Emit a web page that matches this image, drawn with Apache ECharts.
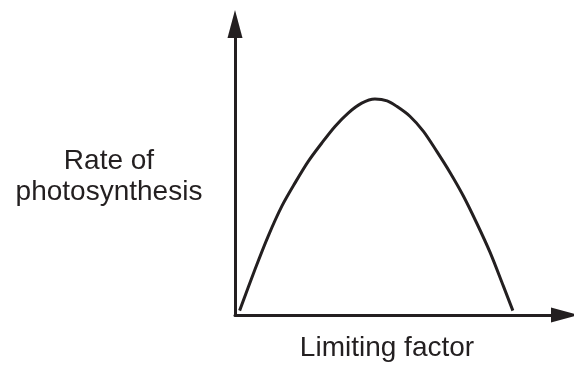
<!DOCTYPE html>
<html>
<head>
	<meta charset="utf-8">
	<title>Rate of photosynthesis</title>
	<script src="https://cdn.jsdelivr.net/npm/echarts@6/dist/echarts.min.js"></script>
</head>
<body style="margin:0">
	<div id="main" style="width:574px;height:367px;"></div>
	<script type="text/javascript">
		// curve (x: limiting factor, y: rate), both 0-100
		var factorX = [1.4, 6.1, 10.1, 14.2, 18.2, 22.2, 26.3, 30.3, 34.3, 38.4, 42.4, 46.1, 49.0, 53.0, 57.1, 61.1, 65.2, 69.2, 73.2, 77.3, 81.3, 84.2];
		var rateY = [1.5, 15.8, 27.2, 37.4, 45.4, 52.8, 59.1, 64.8, 69.4, 72.8, 74.2, 73.6, 71.7, 68.3, 63.1, 56.3, 48.9, 40.9, 31.7, 21.5, 10.0, 1.5];
		var xName = 'Limiting factor';
		var yName = 'Rate of\nphotosynthesis';

		var ink = '#231f20';
		var font = 'Liberation Sans';
		var points = factorX.map(function (x, i) { return [x, rateY[i]]; });

		var myChart = echarts.init(document.getElementById('main'));
		var axisCommon = {
			type: 'value',
			min: 0,
			max: 100,
			axisLine: {
				show: true,
				symbol: ['none', 'triangle'],
				symbolSize: [15, 28],
				lineStyle: { color: ink, width: 3 }
			},
			axisTick: { show: false },
			axisLabel: { show: false },
			splitLine: { show: false }
		};

		var option = {
			animation: false,
			grid: { left: 235, right: 9, top: 24, bottom: 51 },
			// y label sits a little below the axis middle, so place it by hand
			graphic: [{
				type: 'text',
				x: 109,
				y: 177,
				style: {
					text: yName,
					fill: ink,
					font: '28px "' + font + '"',
					lineHeight: 31,
					align: 'center',
					verticalAlign: 'middle'
				}
			}],
			xAxis: echarts.util.merge({
				name: xName,
				nameLocation: 'middle',
				nameGap: 19,
				nameTextStyle: {
					fontFamily: font,
					fontSize: 28,
					color: ink,
					padding: [0, 26, 0, 0]
				}
			}, axisCommon),
			yAxis: echarts.util.merge({}, axisCommon),
			series: [{
				type: 'line',
				data: points,
				smooth: 0.3,
				symbol: 'none',
				lineStyle: { color: ink, width: 3 }
			}]
		};
		myChart.setOption(option);
	</script>
</body>
</html>
